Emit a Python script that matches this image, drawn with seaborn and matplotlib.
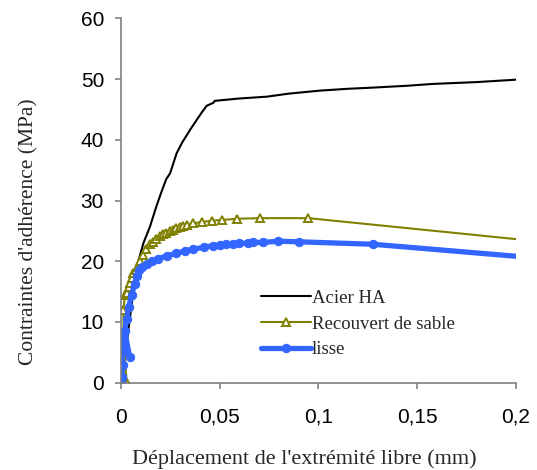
import matplotlib
matplotlib.use("Agg")
import matplotlib.pyplot as plt
import seaborn as sns
import pandas as pd

# Pull-out test: bond stress vs. free-end slip for three bar surfaces
acier_x = [0.0, 0.002, 0.004, 0.006, 0.008, 0.0089, 0.0115, 0.0148, 0.018, 0.0207,
           0.023, 0.025, 0.0283, 0.031, 0.035, 0.0385, 0.041, 0.0435, 0.0469, 0.0475,
           0.0503, 0.06, 0.0739, 0.085, 0.1008, 0.115, 0.128, 0.145, 0.158, 0.18, 0.2]
acier_y = [0.0, 4.0, 9.0, 14.0, 18.5, 20.0, 23.0, 25.7, 29.0, 31.5,
           33.5, 34.5, 37.8, 39.5, 41.6, 43.3, 44.5, 45.6, 46.1, 46.4,
           46.5, 46.8, 47.1, 47.6, 48.1, 48.4, 48.6, 48.9, 49.2, 49.5, 49.9]

sable_x = [0.0, 0.003, 0.0015, 0.0013, 0.0022, 0.003, 0.004, 0.0047, 0.0055, 0.0064,
           0.0075, 0.0089, 0.010, 0.0115, 0.013, 0.0148, 0.0165, 0.018, 0.0198, 0.0215,
           0.023, 0.0249, 0.0265, 0.028, 0.030, 0.0315, 0.0333, 0.0367, 0.0409, 0.046,
           0.051, 0.059, 0.0705, 0.0949, 0.23]
sable_y = [0.0, 0.0, 7.0, 12.0, 14.4, 14.8, 15.8, 16.4, 17.2, 18.0,
           18.6, 19.1, 20.0, 21.0, 22.0, 22.8, 23.2, 23.6, 24.2, 24.5,
           24.7, 25.0, 25.2, 25.4, 25.6, 25.8, 26.0, 26.25, 26.46, 26.68,
           26.8, 27.0, 27.1, 27.1, 22.66]

lisse_x = [0.0, 0.0005, 0.001, 0.0005, 0.0015, 0.001, 0.0045, 0.002, 0.003, 0.004,
           0.0056, 0.007, 0.0081, 0.0095, 0.011, 0.0135, 0.016, 0.019, 0.0233, 0.028,
           0.0325, 0.0368, 0.042, 0.0465, 0.0503, 0.0535, 0.0567, 0.06, 0.0646, 0.067,
           0.072, 0.0796, 0.0902, 0.1276, 0.23]
lisse_y = [0.0, 1.0, 3.0, 5.0, 6.0, 7.5, 4.3, 8.5, 10.5, 12.5,
           14.5, 16.3, 17.5, 18.5, 19.1, 19.6, 20.0, 20.4, 20.9, 21.3,
           21.7, 22.0, 22.3, 22.55, 22.7, 22.8, 22.9, 22.95, 23.0, 23.1,
           23.1, 23.3, 23.2, 22.8, 20.0]

x_ticks = [0, 0.05, 0.1, 0.15, 0.2]
x_tick_labels = ["0", "0,05", "0,1", "0,15", "0,2"]
y_ticks = [0, 10, 20, 30, 40, 50, 60]

series = [
    ("Acier HA", acier_x, acier_y),
    ("Recouvert de sable", sable_x, sable_y),
    ("lisse", lisse_x, lisse_y),
]
frames = [pd.DataFrame({"x": xs, "y": ys, "serie": name}) for name, xs, ys in series]

sns.set_theme(style="ticks")
plt.rcParams["font.family"] = ["Liberation Sans", "DejaVu Sans"]

fig = plt.figure(figsize=(5.37, 4.70), dpi=100)
ax = fig.add_axes([0.2248, 0.1857, 0.7362, 0.7753])

sns.lineplot(data=frames[0], x="x", y="y", sort=False, estimator=None,
             color="black", lw=1.5, ax=ax, label="Acier HA")
sns.lineplot(data=frames[1], x="x", y="y", sort=False, estimator=None,
             color="#808000", lw=1.5, marker="^", markersize=5.5,
             markerfacecolor="white", markeredgecolor="#808000", markeredgewidth=1.4,
             ax=ax, label="Recouvert de sable")
sns.lineplot(data=frames[2], x="x", y="y", sort=False, estimator=None,
             color="#3366FF", lw=3.8, marker="o", markersize=6,
             markerfacecolor="#3366FF", markeredgecolor="#3366FF",
             ax=ax, label="lisse")

ax.set_xlim(0, 0.2)
ax.set_ylim(0, 60)
ax.set_xticks(x_ticks)
ax.set_xticklabels(x_tick_labels)
ax.set_yticks(y_ticks)

for side in ("top", "right"):
    ax.spines[side].set_visible(False)
for side in ("left", "bottom"):
    ax.spines[side].set_color("#808080")
    ax.spines[side].set_linewidth(1.2)
ax.tick_params(axis="both", colors="#808080", labelcolor="black",
               labelsize=15, length=4.5, width=1.2, direction="out")
ax.tick_params(axis="y", pad=7.5)
ax.tick_params(axis="x", pad=13.5)

serif = ["Liberation Serif", "DejaVu Serif"]
ax.set_xlabel("")
ax.set_ylabel("")
fig.text(0.566, 0.024, "Déplacement de l'extrémité libre (mm)", ha="center",
         va="center", fontsize=16, family=serif)
fig.text(0.053, 0.506, "Contraintes d'adhérence (MPa)", ha="center",
         va="center", rotation=90, fontsize=15.5, family=serif)

leg = ax.legend(loc="upper left", bbox_to_anchor=(261 / 537, 1 - 289.5 / 470),
                bbox_transform=fig.transFigure, frameon=False, borderpad=0,
                borderaxespad=0, handlelength=2.67, handletextpad=0.05,
                labelspacing=0.47, prop={"family": serif, "size": 13.5})

fig.savefig("out.png", dpi=100)
